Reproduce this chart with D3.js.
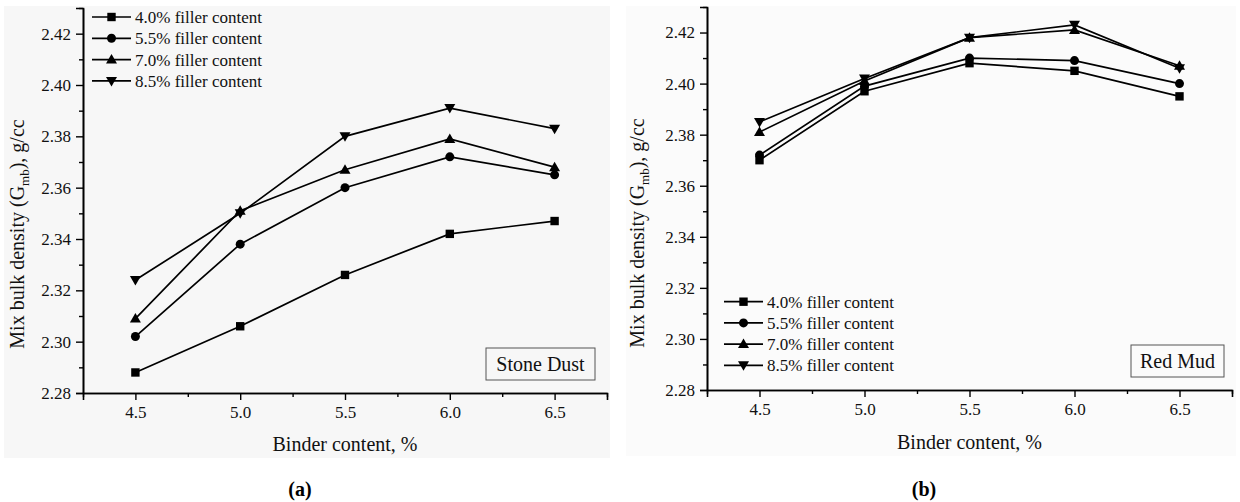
<!DOCTYPE html>
<html>
<head>
<meta charset="utf-8">
<script src="https://cdn.jsdelivr.net/npm/d3@7"></script>
<style>
  html, body { margin: 0; padding: 0; background: #ffffff; }
  svg { display: block; font-family: "Liberation Serif", "Times New Roman", serif; }
  svg text { font-family: "Liberation Serif", "Times New Roman", serif; }
</style>
</head>
<body>
<svg id="chart" width="1240" height="502"></svg>
<script>
// Binder content (%) shared by both panels
const binder = [4.5, 5.0, 5.5, 6.0, 6.5];
const seriesNames = ["4.0% filler content", "5.5% filler content", "7.0% filler content", "8.5% filler content"];
const markerTypes = ["square", "circle", "triangle", "triangleDown"];

// Panel (a): stone dust filler, mix bulk density Gmb (g/cc)
const stoneDust40 = [2.288, 2.306, 2.326, 2.342, 2.347];
const stoneDust55 = [2.302, 2.338, 2.360, 2.372, 2.365];
const stoneDust70 = [2.309, 2.351, 2.367, 2.379, 2.368];
const stoneDust85 = [2.324, 2.350, 2.380, 2.391, 2.383];

// Panel (b): red mud filler
const redMud40 = [2.370, 2.397, 2.408, 2.405, 2.395];
const redMud55 = [2.372, 2.399, 2.410, 2.409, 2.400];
const redMud70 = [2.381, 2.401, 2.418, 2.421, 2.407];
const redMud85 = [2.385, 2.402, 2.418, 2.423, 2.406];

// Axis ticks
const xTicks = [4.5, 5.0, 5.5, 6.0, 6.5];
const xMinorTicks = [4.25, 4.75, 5.25, 5.75, 6.25, 6.75];
const yTicks = [2.28, 2.30, 2.32, 2.34, 2.36, 2.38, 2.40, 2.42];
const yMinorTicks = [2.29, 2.31, 2.33, 2.35, 2.37, 2.39, 2.41, 2.43];

const FONT = '"Liberation Serif", "Times New Roman", serif';
const svg = d3.select("#chart");

function drawMarker(g, type, x, y) {
  if (type === "square") {
    g.append("rect").attr("x", x - 4.2).attr("y", y - 4.2).attr("width", 8.4).attr("height", 8.4).attr("fill", "#000");
  } else if (type === "circle") {
    g.append("circle").attr("cx", x).attr("cy", y).attr("r", 4.5).attr("fill", "#000");
  } else if (type === "triangle") {
    g.append("path").attr("d", `M${x},${y - 5.5}L${x + 5.5},${y + 4}L${x - 5.5},${y + 4}Z`).attr("fill", "#000");
  } else {
    g.append("path").attr("d", `M${x},${y + 5.5}L${x + 5.5},${y - 4}L${x - 5.5},${y - 4}Z`).attr("fill", "#000");
  }
}

function drawPanel(cfg) {
  const g = svg.append("g");

  g.append("rect")
    .attr("x", cfg.bg[0]).attr("y", cfg.bg[1]).attr("width", cfg.bg[2]).attr("height", cfg.bg[3])
    .attr("fill", cfg.bgFill);

  const x = d3.scaleLinear().domain([4.25, 6.75]).range([cfg.left, cfg.right]);
  const y = d3.scaleLinear().domain([2.28, 2.43]).range([cfg.bottom, cfg.top]);

  // x axis with major and minor ticks
  const xAxis = d3.axisBottom(x).tickValues(xTicks).tickFormat(d3.format(".1f")).tickSize(7).tickPadding(6);
  g.append("g").attr("transform", `translate(0,${cfg.bottom})`).call(xAxis)
    .attr("font-family", FONT).attr("font-size", 17);
  g.append("g").attr("transform", `translate(0,${cfg.bottom})`)
    .call(d3.axisBottom(x).tickValues(xMinorTicks).tickFormat("").tickSize(4).tickSizeOuter(0));

  // y axis with major and minor ticks
  const yAxis = d3.axisLeft(y).tickValues(yTicks).tickFormat(d3.format(".2f")).tickSize(7).tickPadding(5);
  g.append("g").attr("transform", `translate(${cfg.left},0)`).call(yAxis)
    .attr("font-family", FONT).attr("font-size", 17);
  g.append("g").attr("transform", `translate(${cfg.left},0)`)
    .call(d3.axisLeft(y).tickValues(yMinorTicks).tickFormat("").tickSize(4).tickSizeOuter(0));

  g.selectAll(".domain").attr("stroke", "#000").attr("stroke-width", 1.6);
  g.selectAll(".tick line").attr("stroke", "#000").attr("stroke-width", 1.4);
  g.selectAll(".tick text").attr("fill", "#111");

  // series lines and markers
  const line = d3.line().x((d, i) => x(binder[i])).y(d => y(d));
  cfg.series.forEach((vals, k) => {
    g.append("path").datum(vals).attr("d", line)
      .attr("fill", "none").attr("stroke", "#000").attr("stroke-width", 1.7);
    const mg = g.append("g");
    vals.forEach((v, i) => drawMarker(mg, markerTypes[k], x(binder[i]), y(v)));
  });

  // legend
  const lg = g.append("g");
  seriesNames.forEach((name, k) => {
    const ly = cfg.legend.y + k * cfg.legend.dy;
    lg.append("line").attr("x1", cfg.legend.x).attr("x2", cfg.legend.x + 39)
      .attr("y1", ly).attr("y2", ly).attr("stroke", "#000").attr("stroke-width", 1.7);
    drawMarker(lg, markerTypes[k], cfg.legend.x + 19.5, ly);
    lg.append("text").attr("x", cfg.legend.x + 43).attr("y", ly + 6)
      .attr("font-size", 17).attr("fill", "#111").text(name);
  });

  // filler label box
  g.append("rect").attr("x", cfg.box[0]).attr("y", cfg.box[1]).attr("width", cfg.box[2]).attr("height", cfg.box[3])
    .attr("fill", "none").attr("stroke", "#555").attr("stroke-width", 1);
  g.append("text").attr("x", cfg.box[0] + cfg.box[2] / 2).attr("y", cfg.box[1] + cfg.box[3] / 2 + 7)
    .attr("text-anchor", "middle").attr("font-size", 20).attr("fill", "#111").text(cfg.boxLabel);

  // axis titles
  g.append("text").attr("x", (cfg.left + cfg.right) / 2).attr("y", cfg.xTitleY)
    .attr("text-anchor", "middle").attr("font-size", 20).attr("fill", "#111").text("Binder content, %");

  const yt = g.append("text")
    .attr("transform", `translate(${cfg.yTitleX},${cfg.yTitleCY}) rotate(-90)`)
    .attr("text-anchor", "middle").attr("font-size", 20).attr("fill", "#111");
  yt.append("tspan").text("Mix bulk density (G");
  yt.append("tspan").attr("dy", 5).attr("font-size", 13).text("mb");
  yt.append("tspan").attr("dy", -5).text("), g/cc");

  // panel caption
  g.append("text").attr("x", cfg.captionX).attr("y", 496)
    .attr("text-anchor", "middle").attr("font-size", 20).attr("font-weight", "bold")
    .attr("fill", "#000").text(cfg.caption);
}

drawPanel({
  left: 83, right: 607, top: 8, bottom: 393,
  bg: [4, 6, 606, 452], bgFill: "#f7f7f7",
  series: [stoneDust40, stoneDust55, stoneDust70, stoneDust85],
  legend: { x: 92, y: 17, dy: 21.3 },
  box: [486, 348, 109, 32], boxLabel: "Stone Dust",
  xTitleY: 451, yTitleX: 24, yTitleCY: 234,
  caption: "(a)", captionX: 300
});

drawPanel({
  left: 707, right: 1232, top: 7, bottom: 390,
  bg: [626, 6, 610, 450], bgFill: "#fbfbfb",
  series: [redMud40, redMud55, redMud70, redMud85],
  legend: { x: 724, y: 301.7, dy: 21.2 },
  box: [1131, 345, 93, 32], boxLabel: "Red Mud",
  xTitleY: 449, yTitleX: 644, yTitleCY: 233,
  caption: "(b)", captionX: 924
});
</script>
</body>
</html>
